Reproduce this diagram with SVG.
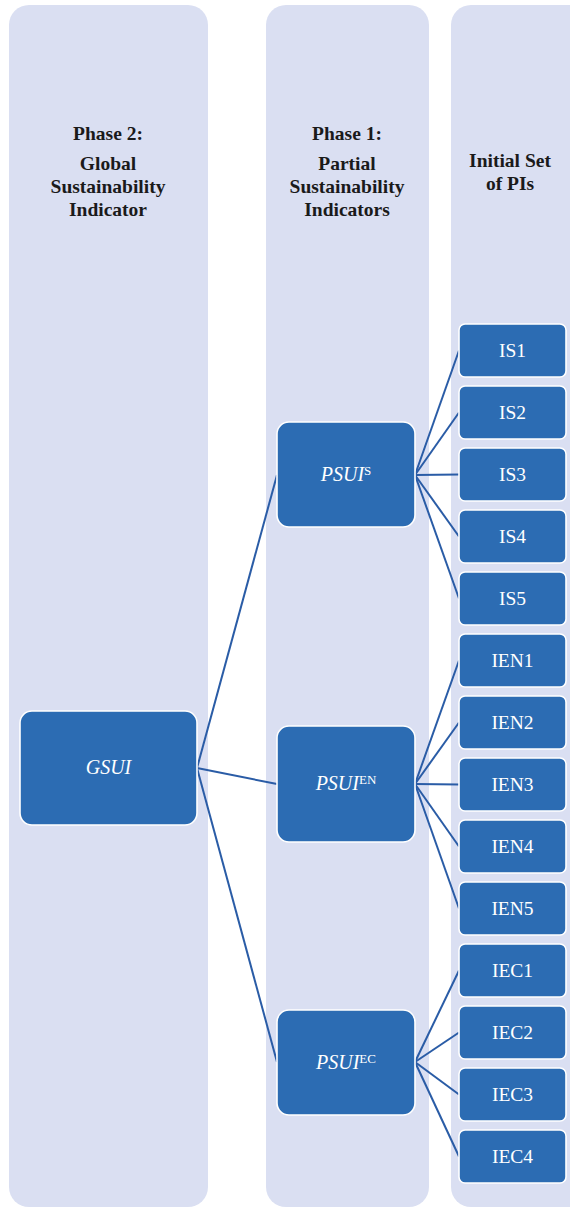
<svg xmlns="http://www.w3.org/2000/svg" width="570" height="1207" viewBox="0 0 570 1207">
  <style>
    .lane { fill: #DADFF2; }
    .head { font-family: "Liberation Serif", "Times New Roman", serif; font-weight: bold; font-size: 19.5px; fill: #1a1a1a; text-anchor: middle; }
    .big { fill: #2C6CB3; stroke: #ffffff; stroke-width: 1.6; }
    .pi { fill: #2C6CB3; stroke: #ffffff; stroke-width: 1.6; }
    .lbl { font-family: "Liberation Serif", "Times New Roman", serif; font-size: 19.5px; fill: #ffffff; text-anchor: middle; }
    .ital { font-family: "Liberation Serif", "Times New Roman", serif; font-style: italic; font-size: 20px; fill: #ffffff; text-anchor: middle; }
    .sup { font-style: normal; font-size: 13px; }
    .link { stroke: #2A5CA6; stroke-width: 2; fill: none; }
  </style>

  <!-- phase lanes -->
  <g id="lanes">
    <rect class="lane" x="9" y="5" width="199" height="1202" rx="20"/>
    <rect class="lane" x="266" y="5" width="163" height="1202" rx="20"/>
    <rect class="lane" x="451" y="5" width="160" height="1202" rx="20"/>
  </g>

  <!-- lane headings -->
  <g id="headings">
    <text class="head" x="108" y="140">Phase 2:</text>
    <text class="head" x="108" y="170">Global</text>
    <text class="head" x="108" y="193">Sustainability</text>
    <text class="head" x="108" y="216">Indicator</text>
    <text class="head" x="347" y="140">Phase 1:</text>
    <text class="head" x="347" y="170">Partial</text>
    <text class="head" x="347" y="193">Sustainability</text>
    <text class="head" x="347" y="216">Indicators</text>
    <text class="head" x="510" y="167">Initial Set</text>
    <text class="head" x="510" y="190">of PIs</text>
  </g>

  <!-- connectors -->
  <g id="connectors" class="link">
    <path d="M197,768 L277,475"/>
    <path d="M197,768 L277,784"/>
    <path d="M197,768 L277,1062"/>
    <path d="M415,475 L459,350.5"/>
    <path d="M415,475 L459,412.5"/>
    <path d="M415,475 L459,474.5"/>
    <path d="M415,475 L459,536.5"/>
    <path d="M415,475 L459,598.5"/>
    <path d="M415,784 L459,660.5"/>
    <path d="M415,784 L459,722.5"/>
    <path d="M415,784 L459,784.5"/>
    <path d="M415,784 L459,846.5"/>
    <path d="M415,784 L459,908.5"/>
    <path d="M415,1062 L459,970.5"/>
    <path d="M415,1062 L459,1032.5"/>
    <path d="M415,1062 L459,1094.5"/>
    <path d="M415,1062 L459,1156.5"/>
  </g>

  <!-- global indicator -->
  <g id="gsui">
    <rect class="big" x="20" y="711" width="177" height="114" rx="12"/>
    <text class="ital" x="108.5" y="774">GSUI</text>
  </g>

  <!-- partial indicators -->
  <g id="psui-s">
    <rect class="big" x="277" y="422" width="138" height="105" rx="12"/>
    <text class="ital" x="346" y="481">PSUI<tspan class="sup" dy="-6">S</tspan></text>
  </g>
  <g id="psui-en">
    <rect class="big" x="277" y="726" width="138" height="116" rx="12"/>
    <text class="ital" x="346" y="790">PSUI<tspan class="sup" dy="-6">EN</tspan></text>
  </g>
  <g id="psui-ec">
    <rect class="big" x="277" y="1010" width="138" height="105" rx="12"/>
    <text class="ital" x="346" y="1069">PSUI<tspan class="sup" dy="-6">EC</tspan></text>
  </g>

  <!-- initial performance indicators -->
  <g id="is1"><rect class="pi" x="459" y="324" width="107" height="53" rx="6"/><text class="lbl" x="512.5" y="357">IS1</text></g>
  <g id="is2"><rect class="pi" x="459" y="386" width="107" height="53" rx="6"/><text class="lbl" x="512.5" y="419">IS2</text></g>
  <g id="is3"><rect class="pi" x="459" y="448" width="107" height="53" rx="6"/><text class="lbl" x="512.5" y="481">IS3</text></g>
  <g id="is4"><rect class="pi" x="459" y="510" width="107" height="53" rx="6"/><text class="lbl" x="512.5" y="543">IS4</text></g>
  <g id="is5"><rect class="pi" x="459" y="572" width="107" height="53" rx="6"/><text class="lbl" x="512.5" y="605">IS5</text></g>
  <g id="ien1"><rect class="pi" x="459" y="634" width="107" height="53" rx="6"/><text class="lbl" x="512.5" y="667">IEN1</text></g>
  <g id="ien2"><rect class="pi" x="459" y="696" width="107" height="53" rx="6"/><text class="lbl" x="512.5" y="729">IEN2</text></g>
  <g id="ien3"><rect class="pi" x="459" y="758" width="107" height="53" rx="6"/><text class="lbl" x="512.5" y="791">IEN3</text></g>
  <g id="ien4"><rect class="pi" x="459" y="820" width="107" height="53" rx="6"/><text class="lbl" x="512.5" y="853">IEN4</text></g>
  <g id="ien5"><rect class="pi" x="459" y="882" width="107" height="53" rx="6"/><text class="lbl" x="512.5" y="915">IEN5</text></g>
  <g id="iec1"><rect class="pi" x="459" y="944" width="107" height="53" rx="6"/><text class="lbl" x="512.5" y="977">IEC1</text></g>
  <g id="iec2"><rect class="pi" x="459" y="1006" width="107" height="53" rx="6"/><text class="lbl" x="512.5" y="1039">IEC2</text></g>
  <g id="iec3"><rect class="pi" x="459" y="1068" width="107" height="53" rx="6"/><text class="lbl" x="512.5" y="1101">IEC3</text></g>
  <g id="iec4"><rect class="pi" x="459" y="1130" width="107" height="53" rx="6"/><text class="lbl" x="512.5" y="1163">IEC4</text></g>
</svg>
